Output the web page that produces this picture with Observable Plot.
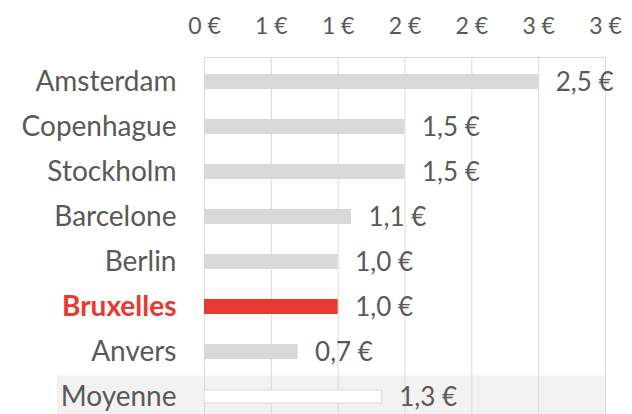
<!DOCTYPE html>
<html>
<head>
<meta charset="utf-8">
<script src="https://cdn.jsdelivr.net/npm/d3@7"></script>
<script src="https://cdn.jsdelivr.net/npm/@observablehq/plot@0.6"></script>
<style>
  html, body { margin: 0; padding: 0; background: #fff; overflow: hidden; }
</style>
</head>
<body>
<div id="chart"></div>
<script>
const cities = ["Amsterdam", "Copenhague", "Stockholm", "Barcelone", "Berlin", "Bruxelles", "Anvers", "Moyenne"];
const prices = [2.5, 1.5, 1.5, 1.1, 1.0, 1.0, 0.7, 1.33];
const highlight = "Bruxelles";
const average = "Moyenne";
const xTicks = [0, 0.5, 1, 1.5, 2, 2.5, 3];
const xTickLabels = ["0 €", "1 €", "1 €", "2 €", "2 €", "3 €", "3 €"];

const grey = "#595959";
const red = "#e8392f";
const barGrey = "#d9d9d9";

const data = cities.map((c, i) => ({city: c, price: prices[i]}));
const fmt = v => v.toFixed(1).replace(".", ",") + " €";
const tickLabel = new Map(xTicks.map((t, i) => [t, xTickLabels[i]]));

const chart = Plot.plot({
  width: 632,
  height: 414,
  marginLeft: 204,
  marginRight: 27,
  marginTop: 57,
  marginBottom: 0,
  style: {fontFamily: "Lato, sans-serif", color: grey, background: "white"},
  x: {domain: [0, 3], axis: null},
  y: {domain: cities, range: [57, 421], padding: 0, axis: null},
  marks: [
    // light background for the average row
    Plot.barX(data.filter(d => d.city === average), {
      y: "city", x1: () => 0, x2: () => 3, fill: "#f2f2f2", insetLeft: -147, insetTop: 1.5
    }),
    Plot.gridX(xTicks, {stroke: barGrey, strokeOpacity: 1}),
    Plot.frame({stroke: barGrey, strokeOpacity: 1}),
    Plot.axisX(xTicks, {
      anchor: "top", tickSize: 0, tickPadding: 24, fontSize: 23, fill: grey, label: null,
      tickFormat: d => tickLabel.get(d)
    }),
    Plot.barX(data.filter(d => d.city !== average), {
      y: "city", x: "price",
      fill: d => d.city === highlight ? red : barGrey,
      insetTop: 15, insetBottom: 15
    }),
    Plot.barX(data.filter(d => d.city === average), {
      y: "city", x: "price", fill: "white", stroke: barGrey, strokeWidth: 1,
      insetTop: 16, insetBottom: 16
    }),
    Plot.text(data, {
      y: "city", x: "price", text: d => fmt(d.price),
      textAnchor: "start", dx: 17, dy: 1, fontSize: 26, fill: grey
    }),
    Plot.axisY(cities.filter(c => c !== highlight), {
      anchor: "left", tickSize: 0, tickPadding: 28, fontSize: 28, fill: grey, label: null
    }),
    Plot.axisY([highlight], {
      anchor: "left", tickSize: 0, tickPadding: 28, fontSize: 28, fill: red, fontWeight: "bold", label: null
    })
  ]
});
document.getElementById("chart").appendChild(chart);
</script>
</body>
</html>
